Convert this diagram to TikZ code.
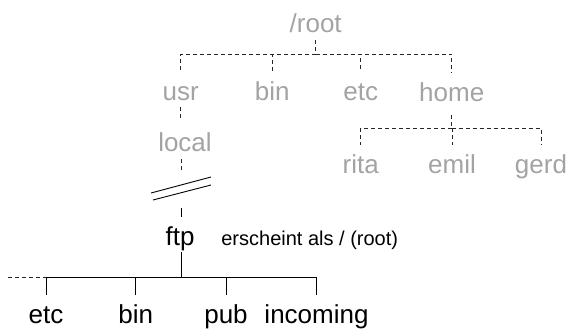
\documentclass[tikz,border=0pt]{standalone}
\usepackage{fontspec}
\setmainfont{Liberation Sans}
\definecolor{dimtext}{gray}{0.64}

\begin{document}
\begin{tikzpicture}[x=1pt,y=-1pt,line width=0.9pt,
  dir/.style={anchor=base,text height=21pt,text depth=0pt,inner xsep=0pt,inner ysep=7pt,font=\fontsize{26}{30}\selectfont},
  old/.style={dir,text=dimtext},
  link/.style={dash pattern=on 4pt off 3pt,black!85}]
\useasboundingbox (0,0) rectangle (569,329);
% alter Baum
\node[old] (root) at (315.7,33) {/root};
\node[old] (usr) at (180.7,100) {usr};
\node[old] (bin) at (272.3,100) {bin};
\node[old] (etc) at (360.7,100) {etc};
\node[old] (home) at (451.7,101.7) {home};
\node[old] (local) at (185,151.7) {local};
\node[old] (rita) at (360.7,173) {rita};
\node[old] (emil) at (452,173) {emil};
\node[old] (gerd) at (541,173) {gerd};
\coordinate (rootbar) at (315.7,54);
\coordinate (homebar) at (451.7,128.3);
\coordinate (cut) at (181,189);
\draw[link](root.south)--(rootbar);
\foreach \n in {usr,bin,etc,home}
  \draw[link](rootbar)-|(\n.north);
\draw[link,shorten <=6pt](home.south)--(homebar);
\foreach \n in {rita,emil,gerd}
  \draw[link](homebar)-|(\n.north);
\draw[link,shorten >=5pt](usr.south)--(usr.south|-local.north);
\draw[link](local.south-|cut)--([shift={(0,-16)}]cut);
%Unterbrechung
\draw([shift={(-30,4)}]cut)--([shift={(30,-12)}]cut)
([shift={(-28,11)}]cut)--([shift={(30,-4)}]cut);
% neuer Baum
\node[dir] (ftp) at (180,245) {ftp};
\node[anchor=base west,inner sep=0pt,font=\fontsize{20}{24}\selectfont] (note) at ([xshift=26pt]ftp.base east) {erscheint als / (root)};
\node[dir] (fetc) at (46,323.3) {etc};
\node[dir] (fbin) at (135.7,323.3) {bin};
\node[dir] (fpub) at (226,323.3) {pub};
\node[dir] (fin) at (316.5,323.3) {incoming};
\coordinate (ftpbar) at (181.7,277.3);
\coordinate (more) at (8.3,277.3);
\draw([shift={(0.7,19)}]cut)--(ftp.north-|ftpbar);
\draw(ftp.south-|ftpbar)--(ftpbar);
\foreach \n in {fetc,fbin,fpub}
  \draw(ftpbar)-|(\n.north);
\draw(ftpbar)-|(fin.north-|316,0);
\draw[link](more)--(ftpbar-|fetc.north);
\end{tikzpicture}
\end{document}
